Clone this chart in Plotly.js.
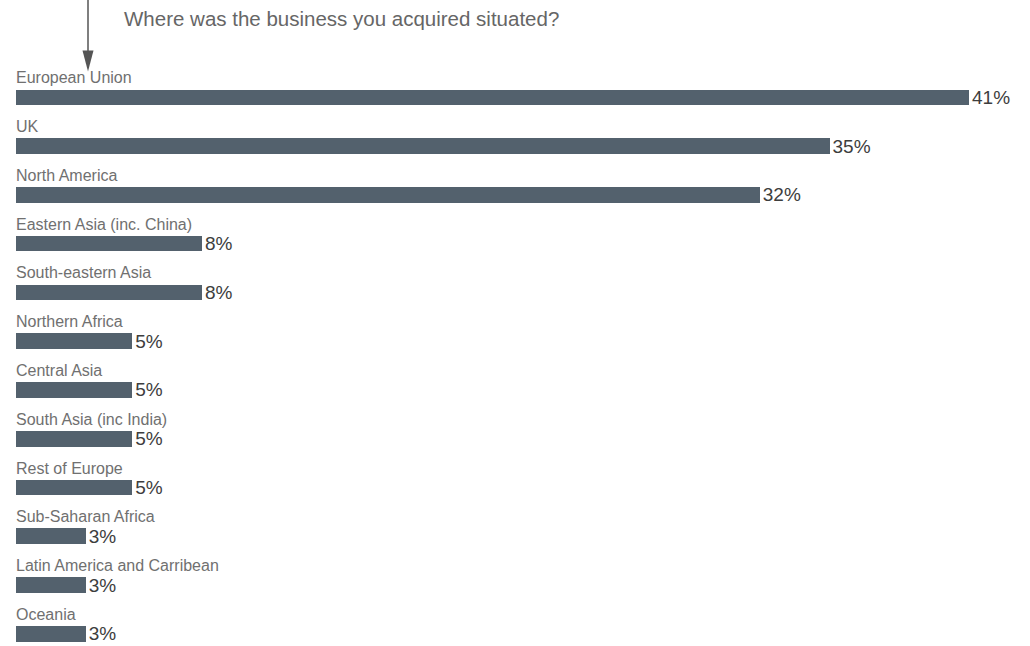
<!DOCTYPE html>
<html>
<head>
<meta charset="utf-8">
<script src="https://cdn.plot.ly/plotly-3.0.1.min.js"></script>
<style>html,body{margin:0;padding:0;background:#fff;}#chart{width:1030px;height:646px;}</style>
</head>
<body>
<div id="chart"></div>
<script>
const categories = [
  "European Union", "UK", "North America", "Eastern Asia (inc. China)",
  "South-eastern Asia", "Northern Africa", "Central Asia", "South Asia (inc India)",
  "Rest of Europe", "Sub-Saharan Africa", "Latin America and Carribean", "Oceania"
];
const values = [41, 35, 32, 8, 8, 5, 5, 5, 5, 3, 3, 3];
const titleText = "Where was the business you acquired situated?";

const W = 1030, H = 646;
const mL = 16, mR = 16, mT = 72.6, mB = 0;
const pw = W - mL - mR, ph = H - mT - mB;
const px = x => (x - mL) / pw;
const py = y => (H - mB - y) / ph;

const barColor = "#53616d";
const font = "Liberation Sans, Arial, sans-serif";

const trace = {
  type: "bar",
  orientation: "h",
  x: values,
  y: categories,
  marker: { color: barColor },
  width: 0.32,
  text: values.map(v => v + "%"),
  textposition: "outside",
  constraintext: "none",
  textangle: 0,
  cliponaxis: false,
  textfont: { family: font, size: 19, color: "#3d3d3d" },
  hoverinfo: "skip"
};

const annotations = categories.map(c => ({
  x: 0, y: c, xref: "x", yref: "y",
  text: c, showarrow: false,
  xanchor: "left", yanchor: "bottom",
  xshift: -2, yshift: 9,
  font: { family: font, size: 16, color: "#707070" }
}));

annotations.push({
  xref: "paper", yref: "paper",
  x: px(122), y: py(18),
  xanchor: "left", yanchor: "middle",
  text: titleText, showarrow: false,
  font: { family: font, size: 20.5, color: "#666666" }
});

const shapes = [
  { type: "line", xref: "paper", yref: "paper",
    x0: px(88), x1: px(88), y0: py(-2), y1: py(52),
    line: { color: "#555555", width: 1.5 } },
  { type: "path", xref: "paper", yref: "paper",
    path: `M ${px(82.5)} ${py(50)} L ${px(93.5)} ${py(50)} L ${px(88)} ${py(71)} Z`,
    fillcolor: "#555555", line: { width: 0 } }
];

const layout = {
  width: W, height: H,
  margin: { l: mL, r: mR, t: mT, b: mB, pad: 0 },
  paper_bgcolor: "#ffffff", plot_bgcolor: "#ffffff",
  showlegend: false,
  xaxis: { range: [0, 41 * pw / 953], visible: false, fixedrange: true },
  yaxis: { type: "category", categoryorder: "array", categoryarray: categories,
           range: [11.25, -0.5], visible: false, fixedrange: true },
  annotations: annotations,
  shapes: shapes,
  bargap: 0
};

Plotly.newPlot("chart", [trace], layout, { displayModeBar: false, staticPlot: true });
</script>
</body>
</html>
